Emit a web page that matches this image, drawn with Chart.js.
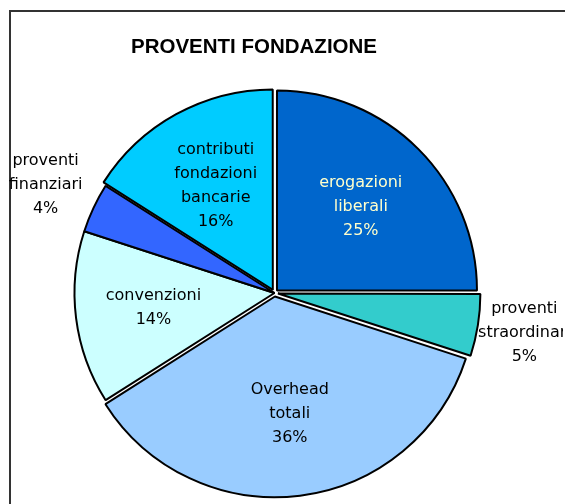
<!DOCTYPE html>
<html>
<head>
<meta charset="utf-8">
<script src="https://cdn.jsdelivr.net/npm/chart.js@4.4.0/dist/chart.umd.min.js"></script>
<style>
  html, body { margin: 0; padding: 0; background: #fff; }
</style>
</head>
<body>
<canvas id="chart" width="565" height="504"></canvas>
<script>
// dati del grafico
const chartTitle = 'PROVENTI FONDAZIONE';
const categories = [
  ['erogazioni', 'liberali'],
  ['proventi', 'straordinari'],
  ['Overhead', 'totali'],
  ['convenzioni'],
  ['proventi', 'finanziari'],
  ['contributi', 'fondazioni', 'bancarie']
];
const values = [25, 5, 36, 14, 4, 16];
const sliceColors = ['#0066CC', '#33CCCC', '#99CCFF', '#CCFFFF', '#3366FF', '#00CCFF'];
const labelColors = ['#FFFFCC', '#000', '#000', '#000', '#000', '#000'];
const labelOutside = [false, true, false, false, true, false];
const sliceOffsets = [14, 14, 14, 0, 0, 14];

// cornice esterna e titolo (come l'area del grafico di Excel)
const framePlugin = {
  id: 'frame',
  beforeDraw(chart) {
    const ctx = chart.ctx;
    ctx.save();
    ctx.strokeStyle = '#333';
    ctx.lineWidth = 2;
    ctx.strokeRect(10, 11, 700, 700);
    ctx.fillStyle = '#000';
    ctx.font = 'bold 20.5px "Liberation Sans", Arial, sans-serif';
    ctx.textAlign = 'center';
    ctx.textBaseline = 'middle';
    ctx.fillText(chartTitle, 254, 47);
    ctx.restore();
  }
};

// etichette delle fette
const sliceLabels = {
  id: 'sliceLabels',
  afterDatasetsDraw(chart) {
    const ctx = chart.ctx;
    const meta = chart.getDatasetMeta(0);
    const total = values.reduce((a, b) => a + b, 0);
    ctx.save();
    ctx.beginPath();
    ctx.rect(0, 0, 563, chart.height);
    ctx.clip();
    ctx.font = '16px "DejaVu Sans"';
    ctx.textAlign = 'center';
    ctx.textBaseline = 'middle';
    meta.data.forEach((arc, i) => {
      const p = arc.getProps(['x', 'y', 'startAngle', 'endAngle', 'outerRadius'], true);
      const mid = (p.startAngle + p.endAngle) / 2;
      const r = labelOutside[i] ? p.outerRadius + 53 : p.outerRadius * 0.61;
      const cx = p.x + Math.cos(mid) * r;
      const cy = p.y + Math.sin(mid) * r;
      const lines = categories[i].concat([Math.round(values[i] / total * 100) + '%']);
      const lh = 24;
      ctx.fillStyle = labelColors[i];
      lines.forEach((t, k) => {
        ctx.fillText(t, cx, cy + (k - (lines.length - 1) / 2) * lh);
      });
    });
    ctx.restore();
  }
};

new Chart(document.getElementById('chart'), {
  type: 'pie',
  data: {
    labels: categories.map(c => c.join(' ')),
    datasets: [{
      data: values,
      backgroundColor: sliceColors,
      borderColor: '#000',
      borderWidth: 2,
      offset: sliceOffsets,
      radius: 200,
      clip: false
    }]
  },
  options: {
    responsive: false,
    animation: false,
    layout: { padding: { left: 0, right: 16, top: 82, bottom: 0 } },
    plugins: {
      legend: { display: false },
      tooltip: { enabled: false },
      title: { display: false }
    }
  },
  plugins: [framePlugin, sliceLabels]
});
</script>
</body>
</html>
